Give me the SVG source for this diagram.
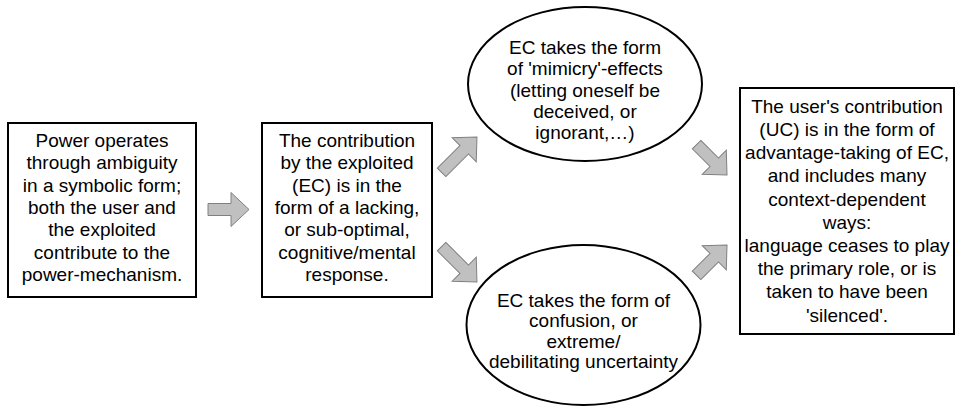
<svg xmlns="http://www.w3.org/2000/svg" width="962" height="409" viewBox="0 0 962 409">
<style>
.box{fill:#fff;stroke:#000;stroke-width:2}
.arr{fill:#c0c0c0;stroke:#808080;stroke-width:1;stroke-linejoin:miter}
text{font-family:"Liberation Sans",Arial,sans-serif;font-size:19px;fill:#000;text-anchor:middle}
</style>
<defs>
<path id="a41" d="M0,-6 H23 V-17 L41,0 L23,17 V6 H0 Z"/>
<path id="a50" d="M0,-6 H32 V-17 L50,0 L32,17 V6 H0 Z"/>
<path id="a43" d="M0,-6 H25 V-17 L43,0 L25,17 V6 H0 Z"/>
</defs>
<rect width="962" height="409" fill="#fff"/>
<g id="connectors">
<use href="#a41" class="arr" transform="translate(208,209.5)"/>
<use href="#a50" class="arr" transform="translate(441.6,172.4) rotate(-45)"/>
<use href="#a50" class="arr" transform="translate(441.6,246.6) rotate(45)"/>
<use href="#a43" class="arr" transform="translate(696.6,144.6) rotate(45)"/>
<use href="#a43" class="arr" transform="translate(696.6,275.4) rotate(-45)"/>
</g>
<g id="node1">
<rect class="box" x="8" y="123" width="188" height="174"/>
<text x="102" y="147">Power operates</text>
<text x="102" y="169.3">through ambiguity</text>
<text x="102" y="191.6">in a symbolic form;</text>
<text x="102" y="213.9">both the user and</text>
<text x="102" y="236.2">the exploited</text>
<text x="102" y="258.5">contribute to the</text>
<text x="102" y="280.8">power-mechanism.</text>
</g>
<g id="node2">
<rect class="box" x="262" y="123" width="170" height="174"/>
<text x="347" y="147">The contribution</text>
<text x="347" y="169.3">by the exploited</text>
<text x="347" y="191.6">(EC) is in the</text>
<text x="347" y="213.9">form of a lacking,</text>
<text x="347" y="236.2">or sub-optimal,</text>
<text x="347" y="258.5">cognitive/mental</text>
<text x="347" y="280.8">response.</text>
</g>
<g id="node3">
<ellipse class="box" cx="585" cy="84" rx="117" ry="77"/>
<text x="585" y="54">EC takes the form</text>
<text x="585" y="75.3">of 'mimicry'-effects</text>
<text x="585" y="96.6">(letting oneself be</text>
<text x="585" y="117.9">deceived, or</text>
<text x="585" y="139.2">ignorant,…)</text>
</g>
<g id="node4">
<ellipse class="box" cx="583.5" cy="325" rx="117" ry="80"/>
<text x="583.5" y="306.7">EC takes the form of</text>
<text x="583.5" y="327.2">confusion, or</text>
<text x="583.5" y="347.7">extreme/</text>
<text x="583.5" y="368.2">debilitating uncertainty</text>
</g>
<g id="node5">
<rect class="box" x="740" y="88" width="214" height="246"/>
<text x="847" y="112.7">The user's contribution</text>
<text x="847" y="135.9">(UC) is in the form of</text>
<text x="847" y="159.1">advantage-taking of EC,</text>
<text x="847" y="182.3">and includes many</text>
<text x="847" y="205.5">context-dependent</text>
<text x="847" y="228.7">ways:</text>
<text x="847" y="251.9">language ceases to play</text>
<text x="847" y="275.1">the primary role, or is</text>
<text x="847" y="298.3">taken to have been</text>
<text x="847" y="321.5">'silenced'.</text>
</g>
</svg>
